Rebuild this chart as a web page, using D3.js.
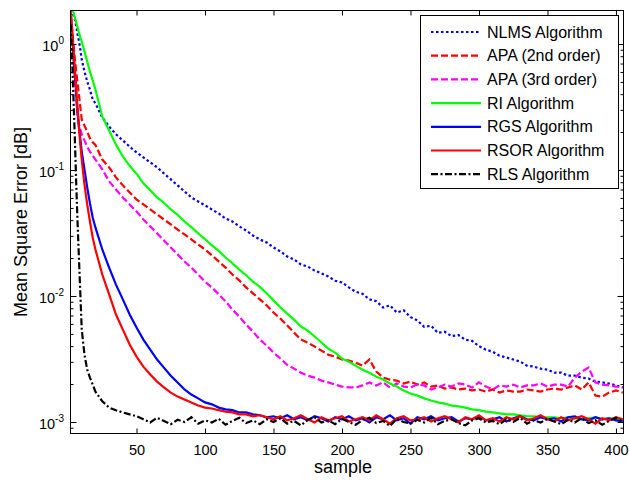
<!DOCTYPE html>
<html>
<head>
<meta charset="utf-8">
<script src="https://d3js.org/d3.v7.min.js"></script>
<style>
  body { margin: 0; background: #fff; }
  text { font-family: "Liberation Sans", Arial, sans-serif; fill: #000; }
</style>
</head>
<body>
<svg class="chart" width="629" height="484"></svg>
<script>
// sample index shared by all curves
var samples = [2,3,4,5,6,7,8,9,10,12,
  14,16,18,20,25,30,35,40,45,50,
  55,60,65,70,75,80,85,90,95,100,
  105,110,115,120,125,130,135,140,145,150,
  155,160,165,170,175,180,185,190,195,200,
  205,210,215,220,225,230,235,240,245,250,
  255,260,265,270,275,280,285,290,295,300,
  305,310,315,320,325,330,335,340,345,350,
  355,360,365,370,375,380,385,390,395,400,
  405];

var nlms = [1.88,1.78,1.69,1.565,1.38,1.19,1.05,0.904,0.753,0.605,
  0.504,0.435,0.363,0.338,0.262,0.221,0.192,0.172,0.153,0.138,
  0.126,0.115,0.105,0.0939,0.0842,0.0755,0.0676,0.0606,0.0563,0.0524,
  0.0486,0.0452,0.0412,0.039,0.0357,0.0331,0.0302,0.0281,0.0266,0.0243,
  0.0226,0.0206,0.0195,0.0178,0.0171,0.0159,0.0151,0.0143,0.0132,0.0128,
  0.0117,0.0108,0.0104,0.0094,0.0091,0.0081,0.0084,0.0074,0.0077,0.0068,
  0.0064,0.0057,0.0058,0.0051,0.0052,0.0048,0.0049,0.0045,0.0044,0.0040,
  0.00375,0.00361,0.00336,0.00325,0.00313,0.00302,0.0028,0.00275,0.00265,0.0026,
  0.00246,0.00246,0.00233,0.00233,0.00225,0.00221,0.00209,0.00206,0.00202,0.00195,
  0.00188];

var apa2 = [1.71,1.303,0.991,0.753,0.605,0.486,0.391,0.313,0.252,0.225,
  0.202,0.178,0.166,0.158,0.121,0.105,0.0874,0.0755,0.0664,0.0584,
  0.0533,0.0486,0.0444,0.0405,0.037,0.0337,0.0308,0.0281,0.0256,0.0234,
  0.021,0.0188,0.0168,0.0148,0.0133,0.0117,0.0105,0.0094,0.00843,0.00739,
  0.00662,0.00583,0.00512,0.00451,0.00427,0.00397,0.00368,0.00342,0.0033,0.00313,
  0.00307,0.00296,0.0028,0.00313,0.00251,0.00225,0.00217,0.00213,0.00202,0.00209,
  0.00198,0.00206,0.00191,0.00195,0.00184,0.00188,0.00181,0.00184,0.00178,0.00181,
  0.00174,0.00181,0.00171,0.00178,0.00174,0.00174,0.00181,0.00178,0.00174,0.00181,
  0.00184,0.00181,0.00188,0.00195,0.00181,0.00206,0.00162,0.00159,0.00171,0.00178,
  0.00171];

var apa3 = [1.565,1.085,0.753,0.523,0.363,0.262,0.229,0.21,0.192,0.172,
  0.153,0.14,0.13,0.121,0.101,0.0812,0.0701,0.0606,0.0533,0.0469,
  0.0405,0.0357,0.0314,0.0276,0.0243,0.0214,0.0188,0.0168,0.0148,0.013,
  0.0117,0.0103,0.00906,0.0078,0.00686,0.00593,0.00522,0.00451,0.00404,0.00355,
  0.00319,0.00284,0.00265,0.00246,0.00233,0.00225,0.00213,0.00206,0.00198,0.00191,
  0.00188,0.00188,0.00195,0.00206,0.00195,0.00206,0.00188,0.00202,0.00191,0.00188,
  0.00198,0.00195,0.00181,0.00188,0.00198,0.00191,0.00202,0.00198,0.00188,0.00206,
  0.00191,0.00181,0.00195,0.00191,0.00198,0.00188,0.00195,0.00195,0.00202,0.00191,
  0.00198,0.00198,0.00191,0.00225,0.00251,0.0027,0.00206,0.00198,0.00195,0.00191,
  0.00188];

var ri = [1.88,1.85,1.78,1.62,1.48,1.35,1.23,1.12,1.05,0.872,
  0.726,0.605,0.514,0.435,0.266,0.206,0.159,0.128,0.108,0.0934,
  0.0783,0.069,0.0606,0.055,0.0486,0.044,0.039,0.0352,0.0314,0.0283,
  0.0252,0.0228,0.0202,0.0182,0.0162,0.0146,0.013,0.0118,0.0105,0.00923,
  0.00813,0.00724,0.0065,0.00572,0.00531,0.00477,0.00427,0.00382,0.00355,0.00319,
  0.00301,0.0028,0.0026,0.00246,0.00229,0.00217,0.00202,0.00191,0.00178,0.00168,
  0.00162,0.00154,0.00148,0.00143,0.0014,0.00135,0.00133,0.0013,0.00126,0.00124,
  0.00121,0.00119,0.00117,0.00115,0.00115,0.00113,0.00111,0.00111,0.00109,0.00109,
  0.00109,0.00107,0.00109,0.00107,0.00105,0.00107,0.00109,0.00105,0.00107,0.00105,
  0.00103];

var rgs = [1.71,1.19,0.825,0.573,0.397,0.291,0.218,0.175,0.14,0.101,
  0.0727,0.0543,0.042,0.035,0.0234,0.0168,0.0123,0.0094,0.00712,0.00562,
  0.00451,0.00375,0.00313,0.0027,0.00233,0.00206,0.00181,0.00165,0.00154,0.00143,
  0.00138,0.0013,0.00126,0.00124,0.00119,0.00119,0.00115,0.00113,0.00109,0.00111,
  0.00107,0.00113,0.00105,0.00109,0.00103,0.00111,0.00107,0.00101,0.00109,0.00105,
  0.00111,0.00103,0.00107,0.00099,0.00109,0.00105,0.00113,0.00103,0.00107,0.00097,
  0.00109,0.00105,0.00111,0.00103,0.00107,0.00109,0.00101,0.00107,0.00105,0.00111,
  0.00103,0.00105,0.00109,0.00101,0.00107,0.00111,0.00105,0.00103,0.00109,0.00105,
  0.00107,0.00101,0.00109,0.00111,0.00105,0.00103,0.00109,0.00105,0.00107,0.00103,
  0.00101];

var rsor = [1.81,1.303,0.904,0.627,0.435,0.302,0.218,0.159,0.121,0.0767,
  0.0533,0.039,0.0291,0.0234,0.0148,0.0103,0.00712,0.00541,0.00412,0.0033,
  0.00275,0.00238,0.00209,0.00188,0.00171,0.00159,0.00151,0.00143,0.00135,0.0013,
  0.00128,0.00124,0.00121,0.00119,0.00115,0.00115,0.00111,0.00113,0.00109,0.00105,
  0.00111,0.00103,0.00107,0.00113,0.00105,0.00099,0.00109,0.00103,0.00107,0.00111,
  0.00101,0.00105,0.00109,0.00103,0.00113,0.00105,0.00097,0.00107,0.00111,0.00103,
  0.00105,0.00109,0.00101,0.00107,0.00111,0.00105,0.00099,0.00109,0.00105,0.00113,
  0.00103,0.00107,0.00101,0.00109,0.00105,0.00111,0.00103,0.00107,0.00113,0.00105,
  0.00101,0.00109,0.00103,0.00107,0.00111,0.00105,0.00097,0.00107,0.00103,0.00109,
  0.00105];

var rls = [1.43,0.753,0.363,0.175,0.0767,0.037,0.0195,0.0103,0.00541,0.00342,
  0.0026,0.00225,0.00198,0.00174,0.00146,0.0013,0.00124,0.00119,0.00115,0.00111,
  0.00105,0.00099,0.00108,0.00102,0.00096,0.00104,0.001,0.00109,0.00097,0.00103,
  0.00099,0.00106,0.00095,0.00102,0.00108,0.00098,0.00103,0.00096,0.00105,0.001,
  0.00107,0.00097,0.00102,0.00094,0.00104,0.00109,0.00099,0.00103,0.00096,0.00106,
  0.001,0.00095,0.00104,0.00108,0.00098,0.00102,0.00093,0.00106,0.001,0.00097,
  0.00104,0.00099,0.00108,0.00096,0.00102,0.00105,0.00098,0.00094,0.00103,0.00107,
  0.00099,0.00102,0.00096,0.00105,0.001,0.00108,0.00097,0.00103,0.00099,0.00106,
  0.00101,0.00096,0.00104,0.00099,0.00107,0.00098,0.00103,0.00095,0.00102,0.00108,
  0.001];

var seriesNames = ["NLMS Algorithm", "APA (2nd order)", "APA (3rd order)",
  "RI Algorithm", "RGS Algorithm", "RSOR Algorithm", "RLS Algorithm"];
var xTicks = [50, 100, 150, 200, 250, 300, 350, 400];
var yTicks = [0.001, 0.01, 0.1, 1];
var yTickExp = ["-3", "-2", "-1", "0"];
var yMinor = [0.0009, 0.002, 0.003, 0.004, 0.005, 0.006, 0.007, 0.008, 0.009,
  0.02, 0.03, 0.04, 0.05, 0.06, 0.07, 0.08, 0.09,
  0.2, 0.3, 0.4, 0.5, 0.6, 0.7, 0.8, 0.9];

var series = [
  {name: seriesNames[0], values: nlms, color: "#0000ff", dash: "2.5,2.5"},
  {name: seriesNames[1], values: apa2, color: "#ff0000", dash: "7,3"},
  {name: seriesNames[2], values: apa3, color: "#ff00ff", dash: "7,3"},
  {name: seriesNames[3], values: ri, color: "#00ff00", dash: null},
  {name: seriesNames[4], values: rgs, color: "#0000ff", dash: null},
  {name: seriesNames[5], values: rsor, color: "#ff0000", dash: null},
  {name: seriesNames[6], values: rls, color: "#000000", dash: "7,2.5,2,2.5"}
];

var svg = d3.select("svg");
var pLeft = 70.5, pRight = 623.5, pTop = 10.5, pBottom = 433.5;

var x = d3.scaleLinear().domain([1.8, 405.5]).range([pLeft, pRight]);
var y = d3.scaleLog().domain([0.00081, 1.845]).range([pBottom, pTop]);

svg.append("defs").append("clipPath").attr("id", "plotclip")
  .append("rect").attr("x", pLeft).attr("y", pTop)
  .attr("width", pRight - pLeft).attr("height", pBottom - pTop);

var line = d3.line()
  .x((d, i) => x(samples[i]))
  .y(d => y(d));

var plot = svg.append("g").attr("clip-path", "url(#plotclip)");
plot.selectAll("path")
  .data(series)
  .enter()
  .append("path")
  .attr("d", d => line(d.values))
  .attr("fill", "none")
  .attr("stroke", d => d.color)
  .attr("stroke-width", 2.2)
  .attr("stroke-dasharray", d => d.dash);

function styleAxis(g) {
  g.select(".domain").remove();
  g.attr("font-size", 14.5).attr("font-family", "Liberation Sans, Arial, sans-serif");
  g.selectAll(".tick line").attr("stroke", "#000");
}

// x axis with inward ticks
svg.append("g").attr("transform", "translate(0," + pBottom + ")")
  .call(d3.axisBottom(x).tickValues(xTicks).tickSize(-5).tickSizeOuter(0).tickPadding(11))
  .call(styleAxis);
svg.append("g").attr("transform", "translate(0," + pTop + ")")
  .call(d3.axisTop(x).tickValues(xTicks).tickSize(-5).tickSizeOuter(0).tickFormat(""))
  .call(styleAxis);

// y axes, major and minor ticks on both sides
svg.append("g").attr("transform", "translate(" + pLeft + ",0)")
  .call(d3.axisLeft(y).tickValues(yTicks).tickSize(-6).tickSizeOuter(0).tickFormat(""))
  .call(styleAxis);
svg.append("g").attr("transform", "translate(" + pLeft + ",0)")
  .call(d3.axisLeft(y).tickValues(yMinor).tickSize(-3).tickSizeOuter(0).tickFormat(""))
  .call(styleAxis);
svg.append("g").attr("transform", "translate(" + pRight + ",0)")
  .call(d3.axisRight(y).tickValues(yTicks).tickSize(-6).tickSizeOuter(0).tickFormat(""))
  .call(styleAxis);
svg.append("g").attr("transform", "translate(" + pRight + ",0)")
  .call(d3.axisRight(y).tickValues(yMinor).tickSize(-3).tickSizeOuter(0).tickFormat(""))
  .call(styleAxis);

var yLab = svg.append("g").selectAll("text")
  .data(yTicks)
  .enter()
  .append("text")
  .attr("x", 64)
  .attr("y", d => y(d) + 7)
  .attr("text-anchor", "end")
  .attr("font-size", 14.5);
yLab.append("tspan").text("10");
yLab.append("tspan").attr("dy", -7).attr("font-size", 10).text((d, i) => yTickExp[i]);

// frame
svg.append("rect")
  .attr("x", pLeft).attr("y", pTop)
  .attr("width", pRight - pLeft).attr("height", pBottom - pTop)
  .attr("fill", "none").attr("stroke", "#000").attr("stroke-width", 1);

// axis titles
svg.append("text")
  .attr("x", 343).attr("y", 473)
  .attr("text-anchor", "middle").attr("font-size", 18)
  .text("sample");
svg.append("text")
  .attr("transform", "translate(27,222) rotate(-90)")
  .attr("text-anchor", "middle").attr("font-size", 18)
  .text("Mean Square Error [dB]");

// legend
var legend = svg.append("g");
legend.append("rect")
  .attr("x", 420.5).attr("y", 15.5).attr("width", 198).attr("height", 173)
  .attr("fill", "#fff").attr("stroke", "#000");
var item = legend.selectAll("g.item")
  .data(series)
  .enter()
  .append("g")
  .attr("class", "item")
  .attr("transform", (d, i) => "translate(0," + (32 + i * 23.7) + ")");
item.append("line")
  .attr("x1", 431).attr("x2", 481).attr("y1", 0).attr("y2", 0)
  .attr("stroke", d => d.color).attr("stroke-width", 2.2)
  .attr("stroke-dasharray", d => d.dash);
item.append("text")
  .attr("x", 487).attr("y", 5.5)
  .attr("font-size", 16)
  .text(d => d.name);
</script>
</body>
</html>
